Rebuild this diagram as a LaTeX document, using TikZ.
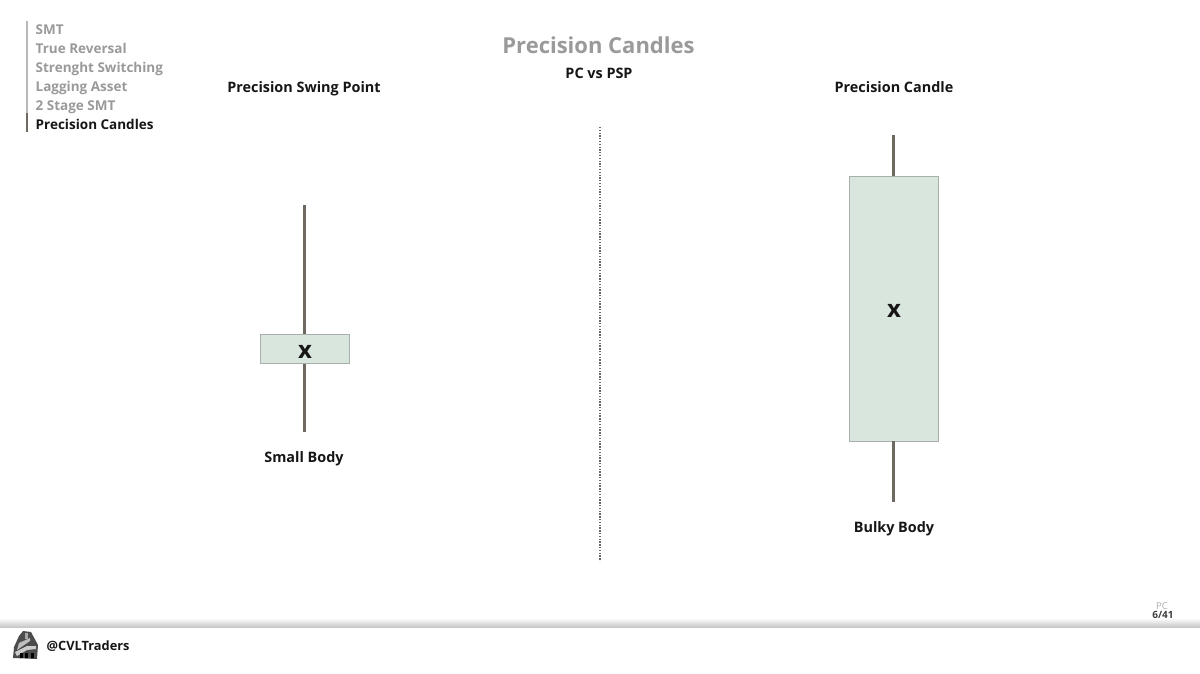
\documentclass[tikz,border=0pt]{standalone}
\usepackage{fontspec}
\setmainfont{Open Sans}
\usetikzlibrary{positioning}
\definecolor{bodygreen}{HTML}{D9E6DD}
\definecolor{bodyedge}{HTML}{A9B0AB}
\definecolor{wickgray}{HTML}{6E6860}
\definecolor{menugray}{HTML}{9A9A9A}
\definecolor{inkblack}{HTML}{161616}
\tikzset{
  menuitem/.style={anchor=base west,inner sep=0pt,font=\fontsize{13.5}{14}\selectfont\bfseries,text=menugray},
  heading/.style={anchor=base,inner sep=0pt,font=\fontsize{14.4}{16}\selectfont\bfseries,text=inkblack},
  candlebody/.style={draw=bodyedge,fill=bodygreen,line width=0.8pt,minimum width=89pt,inner sep=0pt},
  candlemark/.style={inner sep=0pt,font=\fontsize{24}{26}\selectfont\bfseries,text=inkblack},
  wick/.style={wickgray,line width=3pt},
}
\begin{document}
\begin{tikzpicture}[x=1pt,y=-1pt]
\useasboundingbox (0,0) rectangle (1200,674);
\fill[white] (0,0) rectangle (1200,674);
% footer band
\shade[top color=white,bottom color=black!24] (0,618) rectangle (1200,628);
\fill[white] (0,628) rectangle (1200,674);
% side menu
\coordinate (bar top) at (27,21);
\coordinate (bar mid) at (27,113);
\coordinate (bar end) at (27,132);
\draw[menugray!70,line width=1.2pt] (bar top)--(bar mid);
\draw[wickgray,line width=1.2pt] (bar mid)--(bar end);
\node[menuitem] (menu1) at (35.5,34.5) {SMT};
\node[menuitem] (menu2) at (35.5,53.5) {True Reversal};
\node[menuitem] (menu3) at (35.5,72.5) {Strenght Switching};
\node[menuitem] (menu4) at (35.5,91.5) {Lagging Asset};
\node[menuitem] (menu5) at (35.5,110.5) {2 Stage SMT};
\node[menuitem,text=inkblack] (menu6) at (35.5,129.5) {Precision Candles};
% titles
\node[heading,text=menugray,font=\fontsize{22}{24}\selectfont\bfseries] (title) at (598.5,54) {Precision Candles};
\node[heading] (subtitle) at (599,78.5) {PC vs PSP};
\node[heading] (psp title) at (304,92.5) {Precision Swing Point};
\node[heading] (pc title) at (894,92.5) {Precision Candle};
% divider
\coordinate (div top) at (600,127);
\coordinate (div end) at (600,561);
\draw[wickgray,line width=1.3pt,dash pattern=on 1.3pt off 1.5pt] (div top)--(div end);
% small candle
\node[candlebody,minimum height=29pt] (psp body) at (305,349) {};
\node[candlemark] (psp x) at (305,352) {x};
\coordinate (psp high) at (304.5,205);
\coordinate (psp low) at (304.5,432);
\draw[wick] (psp high)--(psp high|-psp body.north);
\draw[wick] (psp low|-psp body.south)--(psp low);
\node[heading] (psp label) at (304,462) {Small Body};
% large candle
\node[candlebody,minimum height=265pt] (pc body) at (894,308.500) {};
\node[candlemark] (pc x) at (894,310.5) {x};
\coordinate (pc high) at (893.5,135);
\coordinate (pc low) at (893.5,502);
\draw[wick] (pc high)--(pc high|-pc body.north);
\draw[wick] (pc low|-pc body.south)--(pc low);
\node[heading] (pc label) at (894,532) {Bulky Body};
% page number
\node[inner sep=0pt,font=\fontsize{9.5}{10}\selectfont,text=menugray!80] (section) at (1162,606) {PC};
\node[inner sep=0pt,font=\fontsize{10}{11}\selectfont\bfseries,text=black!75] (page) at (1163,615) {6/41};
% footer
\fill[black!70] (13,658)--(14,647)--(19,636)--(23,631)--(31,632)--(38,645)--(37,659)--cycle;
\fill[black!25] (19,643)--(30,638)--(30,641)--(17,650)--cycle;
\fill[black!20] (15,652)--(27,646)--(36,646)--(36,649)--(27,650)--(17,656)--cycle;
\foreach \x in {20,25,31}{\fill[black] (\x,653) rectangle ++(2.5,5);}
\fill[white,opacity=.5] (25,633) rectangle (28,639);
\node[heading,font=\fontsize{12.8}{15}\selectfont\bfseries,anchor=base west] (handle) at (46.500,650.5) {@CVLTraders};
\end{tikzpicture}
\end{document}
